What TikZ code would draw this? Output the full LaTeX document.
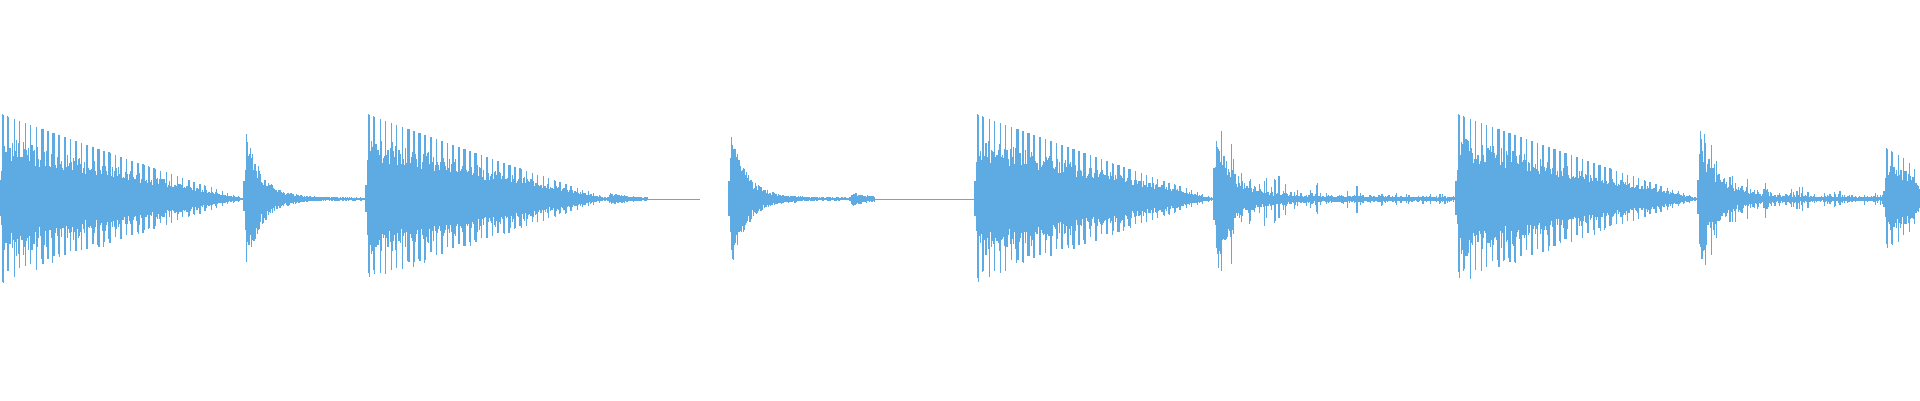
\documentclass[tikz,border=0pt]{standalone}
\definecolor{wav}{HTML}{5DABE2}
\tikzset{wl/.style={draw=wav,line width=1.2pt}}
\newcommand{\kickw}[4]{% x0, len, amp, decay exponent
  \foreach \i in {0,1.1,...,#2}{
    \pgfmathsetmacro{\t}{\i/#2}
    \pgfmathsetmacro{\e}{#3*min(1,\i/3+0.3)*(1-\t)^#4+1.5}
    \pgfmathsetmacro{\pk}{(abs(sin(\i*32))>0.9)?1:(0.45+0.3*rnd)}
    \pgfmathsetmacro{\a}{\e*\pk}
    \pgfmathsetmacro{\b}{\e*\pk*(0.85+0.15*rnd)}
    \draw[wl] (#1+\i,\a) -- (#1+\i,-\b);
  }}
\newcommand{\snarew}[4]{% x0, len, amp, tail amp
  \foreach \i in {0,1.1,...,#2}{
    \pgfmathsetmacro{\e}{#3*min(1,\i/3+0.2)*exp(-\i/16)+#4*exp(-\i/(#2*0.45))*(0.3+0.7*abs(sin(\i*4.5)))*rnd^4+#4*0.08*exp(-\i/(#2*0.6))+1.5}
    \pgfmathsetmacro{\a}{\e*(0.5+0.5*rnd^0.6)}
    \pgfmathsetmacro{\b}{\e*(0.5+0.5*rnd^0.6)}
    \draw[wl] (#1+\i,\a) -- (#1+\i,-\b);
  }}
\begin{document}
\begin{tikzpicture}[x=1pt,y=1pt]
\pgfmathsetseed{7}
\useasboundingbox (0,-201) rectangle (1920,199);
\kickw{0}{243}{84}{1.05}
\snarew{244}{121}{78}{3}
\kickw{366}{242}{84}{1.05}
\snarew{608}{40}{6}{0}
\draw[wav,line width=0.8pt] (648,0) -- (700,0);
\snarew{729}{121}{78}{3}
\snarew{850}{25}{7}{0}
\draw[wav,line width=0.8pt] (875,0) -- (975,0);
\kickw{975}{240}{84}{1.05}
\snarew{1214}{241}{78}{45}
\kickw{1456}{242}{84}{1.05}
\snarew{1698}{186}{78}{45}
\kickw{1884}{36}{50}{0.3}
\end{tikzpicture}
\end{document}
